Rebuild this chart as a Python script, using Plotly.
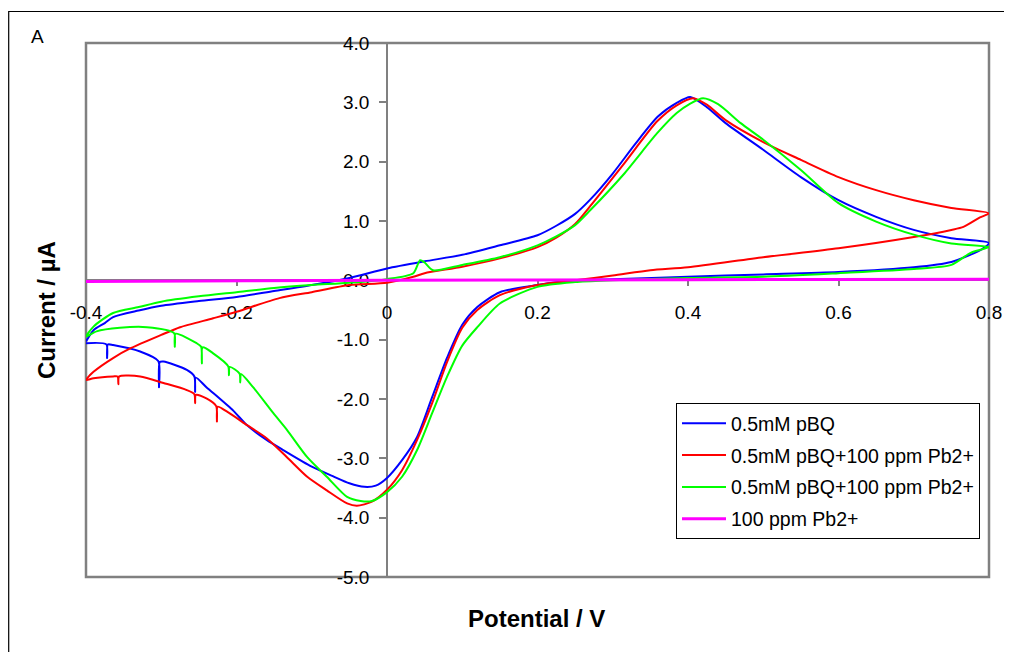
import plotly.graph_objects as go

# ---------------- data ----------------
# 0.5mM pBQ (blue): closed CV loop, forward scan then reverse scan
pbq_x = [-0.400, -0.390, -0.375, -0.364, -0.330, -0.300, -0.250, -0.200, -0.150, -0.100,
         -0.050, 0.000, 0.050, 0.100, 0.150, 0.200, 0.225, 0.250, 0.270, 0.300, 0.330,
         0.360, 0.385, 0.403, 0.425, 0.450, 0.500, 0.550, 0.600, 0.650,
         0.700, 0.750, 0.800,
         0.790, 0.775, 0.750, 0.700, 0.600, 0.500, 0.400, 0.300, 0.250, 0.200,
         0.150, 0.120, 0.100, 0.080, 0.060, 0.040, 0.020, 0.000, -0.015, -0.030,
         -0.050, -0.072, -0.100, -0.138, -0.160, -0.187, -0.204, -0.240, -0.254, -0.255,
         -0.256, -0.266, -0.297, -0.302, -0.303, -0.304, -0.328, -0.364, -0.371, -0.372,
         -0.373, -0.400]
pbq_y = [-1.03, -0.84, -0.72, -0.62, -0.51, -0.43, -0.35, -0.28, -0.18, -0.08,
         0.04, 0.20, 0.32, 0.43, 0.59, 0.76, 0.92, 1.12, 1.36, 1.80, 2.30,
         2.76, 2.99, 3.09, 2.92, 2.65, 2.20, 1.74, 1.35, 1.07,
         0.85, 0.71, 0.63,
         0.52, 0.43, 0.31, 0.22, 0.14, 0.10, 0.06, 0.02, 0.00, -0.08,
         -0.20, -0.45, -0.75, -1.30, -1.97, -2.64, -3.03, -3.33, -3.46, -3.48,
         -3.42, -3.30, -3.14, -2.86, -2.69, -2.43, -2.20, -1.80, -1.64, -1.88,
         -1.62, -1.51, -1.37, -1.38, -1.80, -1.36, -1.20, -1.09, -1.08, -1.31,
         -1.08, -1.06]

# 0.5mM pBQ + 100 ppm Pb2+ (red)
pbq_pb1_x = [-0.400, -0.395, -0.390, -0.364, -0.340, -0.300, -0.275, -0.231, -0.200, -0.143,
             -0.100, -0.050, 0.000, 0.035, 0.050, 0.100, 0.150, 0.200, 0.225, 0.250, 0.270,
             0.314, 0.359, 0.385, 0.407, 0.425, 0.450, 0.500, 0.550,
             0.600, 0.650, 0.700, 0.750, 0.800,
             0.788, 0.766, 0.750, 0.700, 0.600, 0.500, 0.400, 0.350, 0.300, 0.250,
             0.200, 0.150, 0.120, 0.100, 0.080, 0.060, 0.040, 0.020, 0.000, -0.020,
             -0.040, -0.053, -0.080, -0.106, -0.133, -0.160, -0.186, -0.213, -0.225, -0.226,
             -0.227, -0.240, -0.254, -0.255, -0.256, -0.266, -0.297, -0.328, -0.356, -0.357,
             -0.358, -0.364, -0.390, -0.400]
pbq_pb1_y = [-1.68, -1.60, -1.54, -1.31, -1.14, -0.92, -0.79, -0.64, -0.53, -0.30,
             -0.20, -0.08, -0.04, 0.06, 0.12, 0.23, 0.37, 0.56, 0.72, 0.95, 1.25,
             1.95, 2.68, 2.95, 3.07, 2.96, 2.70, 2.33, 2.03,
             1.74, 1.52, 1.35, 1.22, 1.13,
             1.06, 0.90, 0.85, 0.73, 0.54, 0.39, 0.22, 0.17, 0.08, 0.00,
             -0.08, -0.25, -0.50, -0.80, -1.37, -2.07, -2.69, -3.20, -3.53, -3.73,
             -3.80, -3.76, -3.54, -3.31, -2.98, -2.66, -2.44, -2.21, -2.13, -2.38,
             -2.12, -1.99, -1.93, -2.07, -1.92, -1.85, -1.73, -1.62, -1.62, -1.75,
             -1.62, -1.62, -1.65, -1.68]

# 0.5mM pBQ + 100 ppm Pb2+ (green)
pbq_pb2_x = [-0.400, -0.390, -0.364, -0.330, -0.300, -0.250, -0.200, -0.150, -0.100, -0.050,
             0.000, 0.035, 0.044, 0.050, 0.061, 0.100, 0.150, 0.200, 0.225, 0.250, 0.270,
             0.314, 0.359, 0.385, 0.403, 0.420, 0.440, 0.470, 0.500,
             0.550, 0.600, 0.650, 0.700, 0.750, 0.800,
             0.790, 0.775, 0.750, 0.700, 0.600, 0.500, 0.400, 0.300, 0.250, 0.200,
             0.150, 0.120, 0.100, 0.080, 0.060, 0.040, 0.020, 0.000, -0.020, -0.035,
             -0.053, -0.080, -0.106, -0.133, -0.151, -0.178, -0.194, -0.195, -0.196, -0.209,
             -0.210, -0.211, -0.231, -0.245, -0.246, -0.247, -0.253, -0.281, -0.282, -0.283,
             -0.319, -0.355, -0.386, -0.400]
pbq_pb2_y = [-0.95, -0.78, -0.55, -0.45, -0.36, -0.27, -0.20, -0.13, -0.08, -0.04,
             0.02, 0.12, 0.34, 0.30, 0.17, 0.26, 0.39, 0.59, 0.74, 0.93, 1.18,
             1.78, 2.48, 2.82, 2.98, 3.07, 2.97, 2.65, 2.37,
             1.86, 1.30, 0.99, 0.77, 0.62, 0.56,
             0.52, 0.46, 0.26, 0.19, 0.12, 0.06, 0.04, 0.00, -0.03, -0.11,
             -0.39, -0.79, -1.10, -1.62, -2.24, -2.86, -3.31, -3.57, -3.72, -3.72,
             -3.65, -3.31, -2.98, -2.52, -2.24, -1.80, -1.58, -1.72, -1.57, -1.46,
             -1.60, -1.45, -1.23, -1.13, -1.40, -1.12, -1.06, -0.90, -1.12, -0.89,
             -0.79, -0.80, -0.86, -0.95]

# 100 ppm Pb2+ (magenta)
pb_x = [-0.400, 0.000, 0.400, 0.800, 0.400, 0.000, -0.400]
pb_y = [-0.02, 0.00, 0.01, 0.02, 0.01, 0.00, -0.02]

series_names = ["0.5mM pBQ", "0.5mM pBQ+100 ppm Pb2+", "0.5mM pBQ+100 ppm Pb2+", "100 ppm Pb2+"]
series_colors = ["#0000FF", "#FF0000", "#00FF00", "#FF00FF"]

x_ticks = [-0.4, -0.2, 0.0, 0.2, 0.4, 0.6, 0.8]
x_tick_labels = ["-0.4", "-0.2", "0", "0.2", "0.4", "0.6", "0.8"]
y_ticks = [-5, -4, -3, -2, -1, 0, 1, 2, 3, 4]
y_tick_labels = ["-5.0", "-4.0", "-3.0", "-2.0", "-1.0", "0.0", "1.0", "2.0", "3.0", "4.0"]

# ---------------- figure ----------------
FONT = "Liberation Sans, Arial, sans-serif"
fig = go.Figure()
all_x = [pbq_x, pbq_pb1_x, pbq_pb2_x, pb_x]
all_y = [pbq_y, pbq_pb1_y, pbq_pb2_y, pb_y]
for i in range(4):
    fig.add_trace(go.Scatter(
        x=all_x[i], y=all_y[i], mode="lines", name=series_names[i],
        line=dict(color=series_colors[i], width=3 if i == 3 else 2,
                  shape="spline", smoothing=0.7),
        legendgroup="g%d" % i,
    ))

X0, X1 = -0.4, 0.8
Y0, Y1 = -5.0, 4.0
OFF = 8                      # page body margin: the figure is drawn 8px in
W, H = 1012 - OFF, 652 - OFF
# plot area in screenshot pixels: x 86..989, y 43..577
ml, mt = 86 - OFF, 43 - OFF
mr, mb = W - (989 - OFF), H - (577 - OFF)
pw, ph = W - ml - mr, H - mt - mb

def px(xs):
    return (xs - OFF - ml) / pw

def py(ys):
    return (H - mb - (ys - OFF)) / ph

fig.update_layout(
    width=W, height=H,
    margin=dict(l=ml, r=mr, t=mt, b=mb, autoexpand=False),
    paper_bgcolor="white", plot_bgcolor="white",
    font=dict(family=FONT, color="black", size=19),
    showlegend=True,
    legend=dict(
        x=px(676), y=py(403), xanchor="left", yanchor="top",
        bordercolor="black", borderwidth=1, bgcolor="white",
        font=dict(family=FONT, size=19.5, color="black"),
        tracegroupgap=3.5, itemwidth=44,
    ),
    xaxis=dict(
        range=[X0, X1], tickvals=x_ticks, ticktext=x_tick_labels,
        anchor="free", position=(0 - Y0) / (Y1 - Y0),
        showline=True, linecolor="#808080", linewidth=1.5,
        ticks="outside", ticklen=5, tickcolor="#808080", tickwidth=1.5,
        ticklabelstandoff=10, layer="below traces",
        showgrid=False, zeroline=False, automargin=False,
        tickfont=dict(family=FONT, size=19, color="black"),
    ),
    yaxis=dict(
        range=[Y0, Y1], tickvals=y_ticks, ticktext=y_tick_labels,
        anchor="free", position=(0 - X0) / (X1 - X0),
        showline=True, linecolor="#808080", linewidth=1.5,
        ticks="outside", ticklen=7, tickcolor="#808080", tickwidth=1.5,
        ticklabelstandoff=6, layer="below traces",
        showgrid=False, zeroline=False, automargin=False,
        tickfont=dict(family=FONT, size=19, color="black"),
    ),
    shapes=[
        dict(type="rect", xref="paper", yref="paper", x0=0, x1=1, y0=0, y1=1,
             line=dict(color="#808080", width=2.5), layer="below"),
        dict(type="rect", xref="paper", yref="paper",
             x0=px(8.7), x1=px(1100), y0=py(700), y1=py(11.5),
             line=dict(color="black", width=1.2), layer="below"),
    ],
    annotations=[
        dict(text="A", xref="paper", yref="paper", x=px(37), y=py(37),
             showarrow=False, xanchor="center", yanchor="middle",
             font=dict(family=FONT, size=19, color="black")),
        dict(text="<b>Current / µA</b>", xref="paper", yref="paper",
             x=px(46), y=py(310), textangle=-90, showarrow=False,
             xanchor="center", yanchor="middle",
             font=dict(family=FONT, size=24, color="black")),
        dict(text="<b>Potential / V</b>", xref="paper", yref="paper",
             x=px(536), y=py(618), showarrow=False,
             xanchor="center", yanchor="middle",
             font=dict(family=FONT, size=24, color="black")),
    ],
)

fig.write_html("out.html")
